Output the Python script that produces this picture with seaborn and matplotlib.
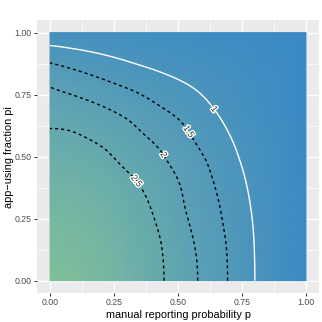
import numpy as np
import matplotlib
matplotlib.use("Agg")
import matplotlib.pyplot as plt
import seaborn as sns
from matplotlib.colors import LinearSegmentedColormap
from matplotlib.ticker import FixedLocator, MultipleLocator
from matplotlib.tri import Triangulation, UniformTriRefiner, CubicTriInterpolator
import matplotlib.patheffects as pe

# ---------------- data ----------------
p_values = [0.0, 0.1, 0.2, 0.3, 0.4, 0.5, 0.6, 0.7, 0.8, 0.9, 1.0]
pi_values = [0.0, 0.1, 0.2, 0.3, 0.4, 0.5, 0.6, 0.7, 0.8, 0.9, 1.0]

# estimated value of the plotted quantity, one list per app-using fraction pi
R_pi_00 = [3.90, 3.75, 3.45, 3.07, 2.68, 2.29, 1.91, 1.47, 1.003, 0.54, 0.0]
R_pi_01 = [3.72, 3.61, 3.36, 3.01, 2.655, 2.27, 1.89, 1.46, 0.995, 0.535, 0.0]
R_pi_02 = [3.52, 3.45, 3.24, 2.90, 2.58, 2.20, 1.82, 1.417, 0.975, 0.518, 0.0]
R_pi_03 = [3.30, 3.25, 3.07, 2.77, 2.47, 2.10, 1.735, 1.35, 0.93, 0.494, 0.0]
R_pi_04 = [3.06, 3.03, 2.87, 2.60, 2.34, 2.01, 1.64, 1.264, 0.86, 0.465, 0.0]
R_pi_05 = [2.81, 2.77, 2.62, 2.36, 2.145, 1.82, 1.505, 1.142, 0.77, 0.42, 0.0]
R_pi_06 = [2.54, 2.49, 2.33, 2.14, 1.89, 1.63, 1.31, 0.987, 0.68, 0.375, 0.0]
R_pi_07 = [2.25, 2.17, 2.02, 1.83, 1.58, 1.36, 1.094, 0.83, 0.57, 0.313, 0.0]
R_pi_08 = [1.92, 1.755, 1.574, 1.389, 1.215, 1.04, 0.852, 0.65, 0.445, 0.24, 0.0]
R_pi_09 = [1.35, 1.21, 1.07, 0.935, 0.805, 0.68, 0.56, 0.435, 0.305, 0.165, 0.0]
R_pi_10 = [0.60, 0.575, 0.54, 0.49, 0.43, 0.37, 0.31, 0.245, 0.175, 0.09, 0.0]

contour_levels_solid = [1.0]
contour_levels_dashed = [1.5, 2.0, 2.5]

tick_values = [0.0, 0.25, 0.5, 0.75, 1.0]
tick_labels = ["0.00", "0.25", "0.50", "0.75", "1.00"]

x_title = "manual reporting probability p"
y_title = "app\u2212using fraction pi"

# ---------------- style ----------------
sns.set_theme(style="darkgrid", rc={
    "axes.facecolor": "#EBEBEB",
    "grid.color": "white",
    "axes.edgecolor": "#EBEBEB",
})
plt.rcParams["font.family"] = ["Liberation Sans", "DejaVu Sans"]

Z = np.array([R_pi_00, R_pi_01, R_pi_02, R_pi_03, R_pi_04, R_pi_05,
              R_pi_06, R_pi_07, R_pi_08, R_pi_09, R_pi_10])
P, PI = np.meshgrid(p_values, pi_values)
ny, nx = Z.shape

cmap = LinearSegmentedColormap.from_list(
    "bluegreen", ["#3A89C4", "#5A9FB6", "#80C09A"])

fig = plt.figure(figsize=(3.22, 3.22), dpi=100)
ax = fig.add_axes([0.114, 0.089, 0.8776, 0.849])
ax.set_axisbelow(True)

ax.pcolormesh(P, PI, Z, shading="gouraud", cmap=cmap, vmin=0.0, vmax=3.9,
              rasterized=True, zorder=1)

# regular triangulation of the grid, refined by the library for smooth contours
triangles = []
for j in range(ny - 1):
    for i in range(nx - 1):
        a = j * nx + i
        b = a + 1
        c = a + nx
        d = c + 1
        triangles.append([a, b, d])
        triangles.append([a, d, c])
tri = Triangulation(P.ravel(), PI.ravel(), triangles=np.array(triangles))
interp = CubicTriInterpolator(tri, Z.ravel(), kind="min_E")
tri_f, z_f = UniformTriRefiner(tri).refine_field(Z.ravel(), triinterpolator=interp, subdiv=3)

cs1 = ax.tricontour(tri_f, z_f, levels=contour_levels_solid, colors="white",
                    linewidths=1.0, zorder=2)
cs2 = ax.tricontour(tri_f, z_f, levels=contour_levels_dashed, colors="black",
                    linewidths=1.0, linestyles=[(0, (2.2, 2.2))], zorder=2)

label_spots_solid = [(0.645, 0.694)]
label_spots_dashed = [(0.54, 0.60), (0.44, 0.505), (0.332, 0.397)]
t1 = ax.clabel(cs1, fmt="%g", fontsize=6.5, colors="#333333", inline=False,
               manual=label_spots_solid)
t2 = ax.clabel(cs2, fmt="%g", fontsize=6.5, colors="#333333", inline=False,
               manual=label_spots_dashed)
for t in list(t1) + list(t2):
    t.set_path_effects([pe.withStroke(linewidth=2.0, foreground="white")])
    t.set_zorder(3)

ax.set_xlim(-0.052, 1.052)
ax.set_ylim(-0.051, 1.051)
ax.xaxis.set_major_locator(FixedLocator(tick_values))
ax.yaxis.set_major_locator(FixedLocator(tick_values))
ax.set_xticklabels(tick_labels)
ax.set_yticklabels(tick_labels)
ax.xaxis.set_minor_locator(MultipleLocator(0.125))
ax.yaxis.set_minor_locator(MultipleLocator(0.125))

ax.grid(which="major", color="white", linewidth=1.0)
ax.grid(which="minor", color="white", linewidth=0.5)
ax.tick_params(which="major", bottom=True, left=True, length=2.5, width=0.7,
               color="#333333", labelsize=6.3, labelcolor="#4D4D4D", pad=1.2)
ax.tick_params(which="minor", bottom=False, left=False, length=0)
for s in ax.spines.values():
    s.set_visible(False)

ax.set_xlabel(x_title, fontsize=7.8, color="black", labelpad=2.0)
ax.set_ylabel(y_title, fontsize=7.8, color="black")
ax.yaxis.set_label_coords(-0.08, 0.5)

fig.savefig("out.png", dpi=100)
